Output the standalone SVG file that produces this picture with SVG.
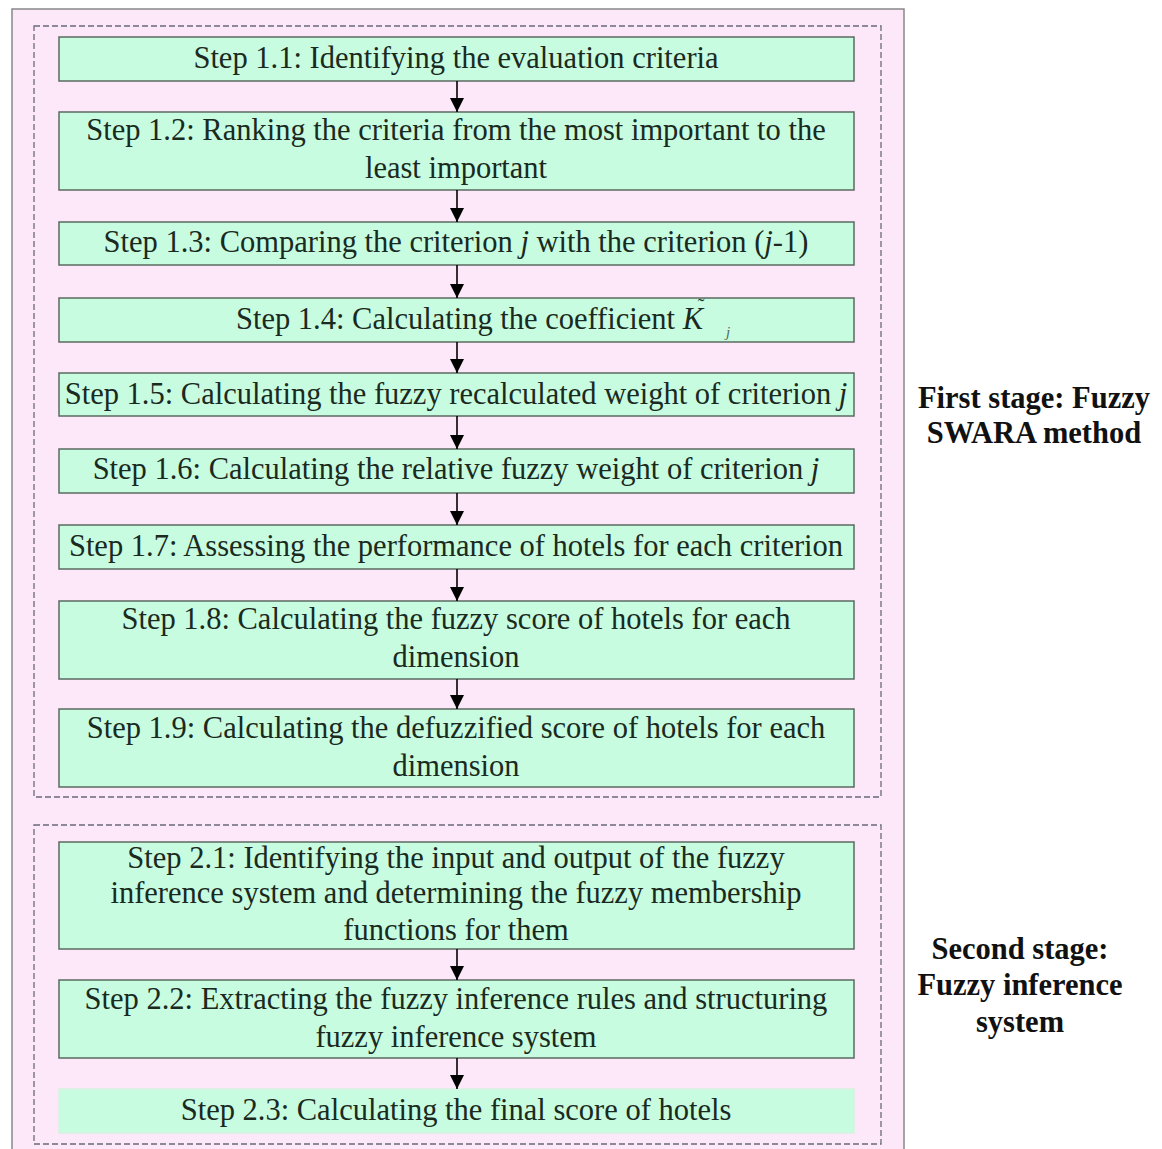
<svg xmlns="http://www.w3.org/2000/svg" width="1162" height="1149" viewBox="0 0 1162 1149">
<defs>
<style>
.box{fill:#c8fce0;stroke:#5a6a60;stroke-width:1.5}
.t{font-family:"Liberation Serif","Times New Roman",serif;font-size:30.5px;fill:#1a2a20;text-anchor:middle}
.lbl{font-family:"Liberation Serif","Times New Roman",serif;font-size:30.5px;font-weight:bold;fill:#111;text-anchor:middle}
.dash{fill:none;stroke:#6a6a78;stroke-width:1.3;stroke-dasharray:6 3}
.conn line{stroke:#000;stroke-width:1.6}
</style>
<marker id="ah" viewBox="0 0 10 10" refX="10" refY="5" markerWidth="14" markerHeight="14" markerUnits="userSpaceOnUse" orient="auto">
<path d="M0,0 L10,5 L0,10 z" fill="#000"/>
</marker>
</defs>
<rect width="1162" height="1149" fill="#fff"/>
<rect x="12" y="9" width="892" height="1150" fill="#fce8f8" stroke="#888" stroke-width="1.5"/>
<rect class="dash" x="34" y="26" width="847" height="771"/>
<rect class="dash" x="34" y="825" width="847" height="319"/>

<g id="s11"><rect class="box" x="59" y="37" width="795" height="44"/><text class="t" x="456" y="68">Step 1.1: Identifying the evaluation criteria</text></g>
<g id="s12"><rect class="box" x="59" y="112" width="795" height="78"/><text class="t" x="456" y="140">Step 1.2: Ranking the criteria from the most important to the</text><text class="t" x="456" y="178">least important</text></g>
<g id="s13"><rect class="box" x="59" y="222" width="795" height="43"/><text class="t" x="456" y="252">Step 1.3: Comparing the criterion <tspan font-style="italic">j</tspan> with the criterion (<tspan font-style="italic">j</tspan>-1)</text></g>
<g id="s14"><rect class="box" x="59" y="298" width="795" height="44"/><text class="t" x="236" y="329" style="text-anchor:start">Step 1.4: Calculating the coefficient <tspan font-style="italic">K</tspan></text><text class="t" x="701" y="313" style="font-size:20px">˜</text><text class="t" x="728" y="337" style="font-size:15px;font-style:italic;fill:#506858">j</text></g>
<g id="s15"><rect class="box" x="59" y="373" width="795" height="43"/><text class="t" x="456" y="404">Step 1.5: Calculating the fuzzy recalculated weight of criterion <tspan font-style="italic">j</tspan></text></g>
<g id="s16"><rect class="box" x="59" y="449" width="795" height="44"/><text class="t" x="456" y="479">Step 1.6: Calculating the relative fuzzy weight of criterion <tspan font-style="italic">j</tspan></text></g>
<g id="s17"><rect class="box" x="59" y="525" width="795" height="44"/><text class="t" x="456" y="556">Step 1.7: Assessing the performance of hotels for each criterion</text></g>
<g id="s18"><rect class="box" x="59" y="601" width="795" height="78"/><text class="t" x="456" y="629">Step 1.8: Calculating the fuzzy score of hotels for each</text><text class="t" x="456" y="667">dimension</text></g>
<g id="s19"><rect class="box" x="59" y="709" width="795" height="78"/><text class="t" x="456" y="738">Step 1.9: Calculating the defuzzified score of hotels for each</text><text class="t" x="456" y="776">dimension</text></g>

<g id="s21"><rect class="box" x="59" y="842" width="795" height="107"/><text class="t" x="456" y="868">Step 2.1: Identifying the input and output of the fuzzy</text><text class="t" x="456" y="903">inference system and determining the fuzzy membership</text><text class="t" x="456" y="940">functions for them</text></g>
<g id="s22"><rect class="box" x="59" y="980" width="795" height="78"/><text class="t" x="456" y="1009">Step 2.2: Extracting the fuzzy inference rules and structuring</text><text class="t" x="456" y="1047">fuzzy inference system</text></g>
<g id="s23"><rect x="59" y="1089" width="795" height="44" fill="#c8fce0" stroke="#d8f0e0" stroke-width="1.5"/><text class="t" x="456" y="1120">Step 2.3: Calculating the final score of hotels</text></g>

<g id="stage1"><text class="lbl" x="1034" y="408">First stage: Fuzzy</text><text class="lbl" x="1034" y="443">SWARA method</text></g>
<g id="stage2"><text class="lbl" x="1020" y="959">Second stage:</text><text class="lbl" x="1020" y="995">Fuzzy inference</text><text class="lbl" x="1020" y="1032">system</text></g>

<g class="conn">
<line x1="457" y1="81" x2="457" y2="112" marker-end="url(#ah)"/>
<line x1="457" y1="190" x2="457" y2="222" marker-end="url(#ah)"/>
<line x1="457" y1="265" x2="457" y2="298" marker-end="url(#ah)"/>
<line x1="457" y1="342" x2="457" y2="373" marker-end="url(#ah)"/>
<line x1="457" y1="416" x2="457" y2="449" marker-end="url(#ah)"/>
<line x1="457" y1="493" x2="457" y2="525" marker-end="url(#ah)"/>
<line x1="457" y1="569" x2="457" y2="601" marker-end="url(#ah)"/>
<line x1="457" y1="679" x2="457" y2="709" marker-end="url(#ah)"/>
<line x1="457" y1="949" x2="457" y2="980" marker-end="url(#ah)"/>
<line x1="457" y1="1058" x2="457" y2="1089" marker-end="url(#ah)"/>
</g>
</svg>
